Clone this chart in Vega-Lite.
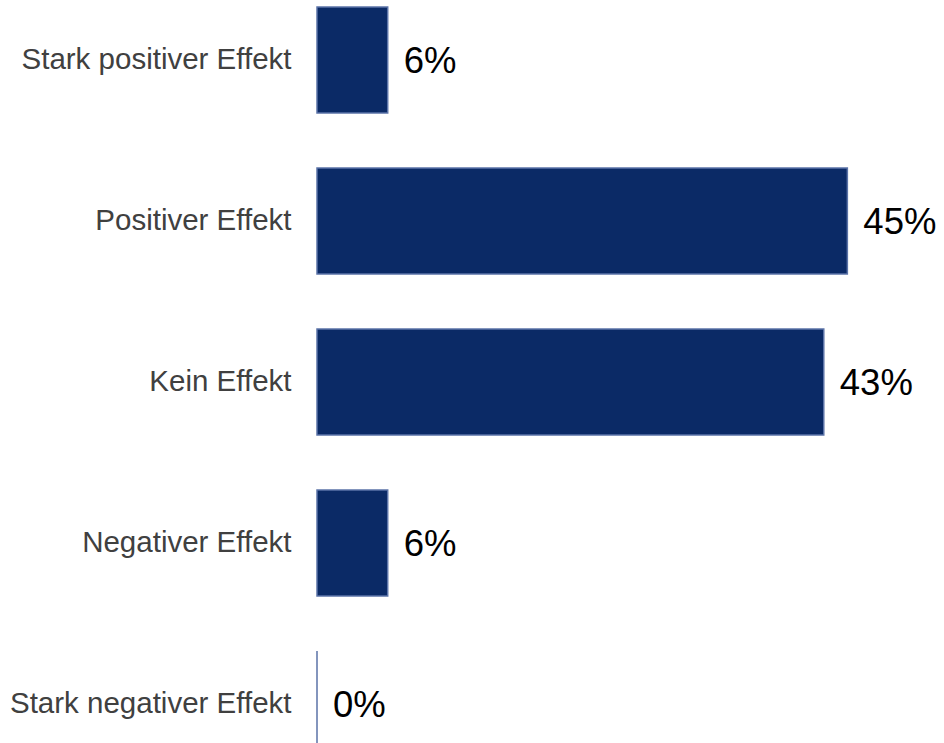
{
  "$schema": "https://vega.github.io/schema/vega-lite/v6.json",
  "autosize": "none",
  "width": 627,
  "height": 743,
  "padding": {"left": 317, "top": 0, "right": 0, "bottom": 0},
  "background": "white",
  "config": {"view": {"stroke": null}, "font": "Liberation Sans"},
  "data": {
    "values": [
      {"category": "Stark positiver Effekt", "value": 6, "label": "6%"},
      {"category": "Positiver Effekt", "value": 45, "label": "45%"},
      {"category": "Kein Effekt", "value": 43, "label": "43%"},
      {"category": "Negativer Effekt", "value": 6, "label": "6%"},
      {"category": "Stark negativer Effekt", "value": 0, "label": "0%"}
    ]
  },
  "encoding": {
    "y": {
      "field": "category",
      "type": "nominal",
      "sort": null,
      "scale": {"range": [0, 764], "paddingInner": 0.3416, "paddingOuter": 0.0435},
      "axis": {
        "title": null,
        "domain": false,
        "ticks": false,
        "labelFontSize": 29.5,
        "labelColor": "#404040",
        "labelPadding": 26,
        "labelFont": "Liberation Sans",
        "labelLimit": 400
      }
    },
    "x": {
      "field": "value",
      "type": "quantitative",
      "scale": {"domain": [0, 53.2]},
      "axis": null
    }
  },
  "layer": [
    {
      "mark": {"type": "bar", "color": "#0b2a66", "stroke": "#5b73a8", "strokeWidth": 1.5}
    },
    {
      "mark": {"type": "text", "align": "left", "baseline": "middle", "dx": 16, "dy": 2, "fontSize": 36.5, "color": "#000000", "font": "Liberation Sans"},
      "encoding": {
        "text": {"field": "label", "type": "nominal"}
      }
    }
  ]
}
